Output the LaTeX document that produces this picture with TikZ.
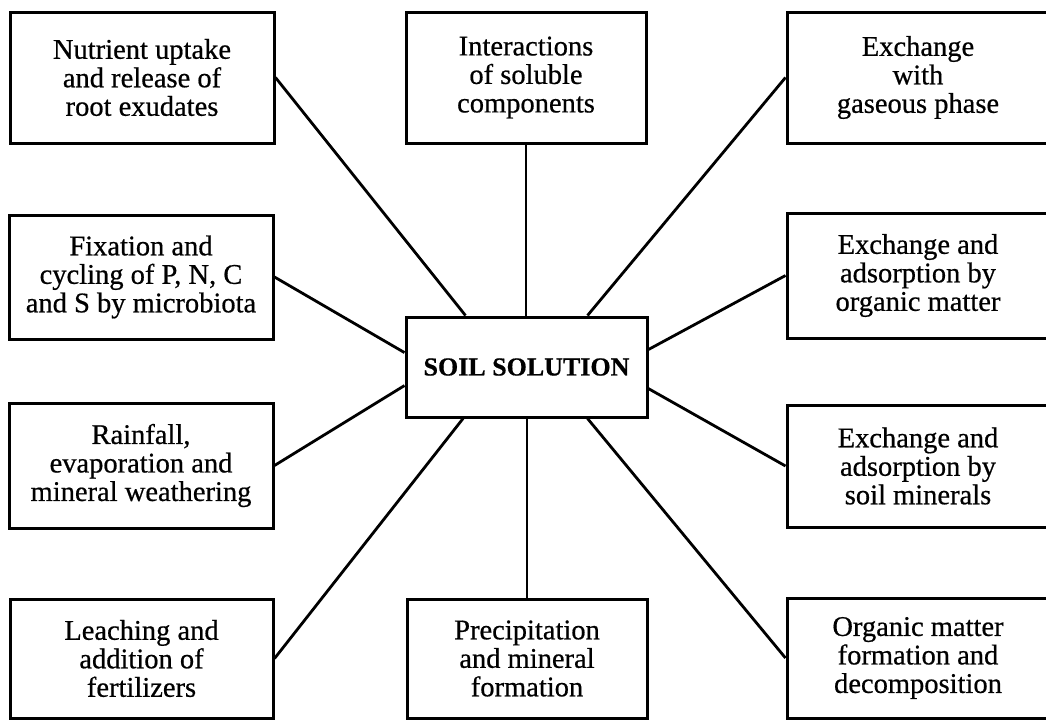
\documentclass[tikz,border=0pt]{standalone}
\usepackage{fontspec}
\setmainfont[FakeBold=0.6]{Liberation Serif}
\usetikzlibrary{calc}
\begin{document}
\begin{tikzpicture}[x=1pt,y=-1pt,
  box/.style={draw,line width=3pt,inner sep=0pt,align=center,
    font=\fontsize{28.5}{28.5}\selectfont,minimum height=#1},
  box/.default=125pt,
  conn/.style={line width=2.8pt}]
\useasboundingbox (0,0) rectangle (1046,721);
% centre
\node[draw,line width=3pt,inner sep=0pt,minimum width=241pt,minimum height=100pt,
  font=\fontsize{26}{28}\selectfont\bfseries] (C) at (526.5,367) {SOIL SOLUTION};
% top row
\node[box=131pt,minimum width=264pt] (TL) at (142,77.5) {Nutrient uptake\\and release of\\root exudates};
\node[box=131pt,minimum width=240pt] (TM) at (526,77.5) {Interactions\\of soluble\\components};
\node[box=131pt,minimum width=262pt] (TR) at (918,77.5) {Exchange\\with\\gaseous phase};
% middle rows
\node[box=124pt,minimum width=264pt] (ML1) at (141,277) {Fixation and\\cycling of P, N, C\\and S by microbiota};
\node[box=125pt,minimum width=262pt] (MR1) at (918,275.5) {Exchange and\\adsorption by\\organic matter};
\node[box=125pt,minimum width=264pt] (ML2) at (141,465.5) {Rainfall,\\evaporation and\\mineral weathering};
\node[box=122pt,minimum width=262pt] (MR2) at (918,466) {Exchange and\\adsorption by\\soil minerals};
% bottom row
\node[box=119pt,minimum width=263pt] (BL) at (141.5,658.5) {Leaching and\\addition of\\fertilizers};
\node[box=119pt,minimum width=240pt] (BM) at (527,658.5) {Precipitation\\and mineral\\formation};
\node[box=120pt,minimum width=262pt] (BR) at (918,658) {Organic matter\\formation and\\decomposition};
% connectors
\draw[conn] (TL.east) -- ($(C.north west)!0.25!(C.north east)$);
\draw[conn] (TM.south) -- (TM.south |- C.north);
\draw[conn] (TR.west) -- ($(C.north west)!0.75!(C.north east)$);
\draw[conn] (ML1.east) -- ($(C.north west)!0.36!(C.south west)$);
\draw[conn] (ML2.east) -- ($(C.north west)!0.68!(C.south west)$);
\draw[conn] (MR1.west) -- ($(C.north east)!0.33!(C.south east)$);
\draw[conn] (MR2.west) -- ($(C.north east)!0.71!(C.south east)$);
\draw[conn] (BL.east) -- ($(C.south west)!0.24!(C.south east)$);
\draw[conn] (BM.north) -- (BM.north |- C.south);
\draw[conn] (BR.west) -- ($(C.south west)!0.75!(C.south east)$);
\end{tikzpicture}
\end{document}
